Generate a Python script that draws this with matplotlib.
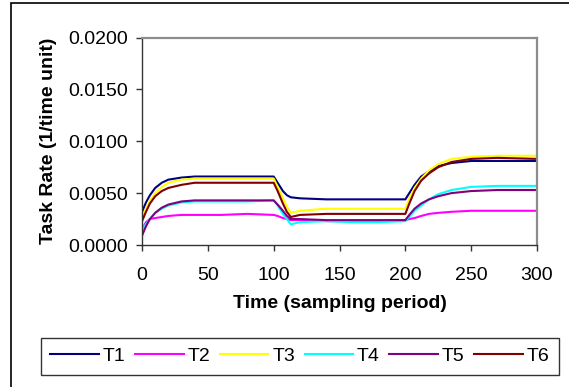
import matplotlib.pyplot as plt
from matplotlib.patches import Rectangle

plt.rcParams['font.family'] = ['Liberation Sans', 'DejaVu Sans']

# sampling period
t = [0, 3, 6, 10, 15, 20, 30, 40, 60, 80, 100, 103, 107, 110, 113, 120, 140, 160, 180, 200,
     203, 207, 212, 218, 225, 235, 250, 270, 300]

T1 = [0.0032, 0.0041, 0.0048, 0.0055, 0.0060, 0.0063, 0.0065, 0.0066, 0.0066, 0.0066, 0.0066,
      0.0060, 0.0052, 0.0048, 0.0046, 0.0045, 0.0044, 0.0044, 0.0044, 0.0044,
      0.0050, 0.0058, 0.0066, 0.0071, 0.0076, 0.0079, 0.0081, 0.0081, 0.0081]
T2 = [0.0015, 0.0022, 0.0025, 0.0026, 0.0027, 0.0028, 0.0029, 0.0029, 0.0029, 0.0030, 0.0029,
      0.0028, 0.0026, 0.0025, 0.0024, 0.0024, 0.0023, 0.0023, 0.0023, 0.0024,
      0.0025, 0.0026, 0.0028, 0.0030, 0.0031, 0.0032, 0.0033, 0.0033, 0.0033]
T3 = [0.0025, 0.0035, 0.0043, 0.0050, 0.0056, 0.0060, 0.0063, 0.0064, 0.0064, 0.0064, 0.0064,
      0.0056, 0.0045, 0.0037, 0.0031, 0.0033, 0.0035, 0.0035, 0.0035, 0.0035,
      0.0045, 0.0055, 0.0064, 0.0072, 0.0078, 0.0083, 0.0085, 0.0086, 0.0086]
T4 = [0.0015, 0.0020, 0.0025, 0.0031, 0.0035, 0.0038, 0.0041, 0.0042, 0.0042, 0.0042, 0.0043,
      0.0038, 0.0030, 0.0025, 0.0020, 0.0022, 0.0023, 0.0022, 0.0022, 0.0023,
      0.0027, 0.0033, 0.0038, 0.0044, 0.0049, 0.0053, 0.0056, 0.0057, 0.0057]
T5 = [0.0009, 0.0018, 0.0025, 0.0031, 0.0036, 0.0039, 0.0042, 0.0043, 0.0043, 0.0043, 0.0043,
      0.0039, 0.0033, 0.0028, 0.0025, 0.0025, 0.0024, 0.0024, 0.0024, 0.0024,
      0.0029, 0.0035, 0.0040, 0.0044, 0.0047, 0.0050, 0.0052, 0.0053, 0.0053]
T6 = [0.0023, 0.0032, 0.0040, 0.0047, 0.0052, 0.0055, 0.0058, 0.0060, 0.0060, 0.0060, 0.0060,
      0.0052, 0.0040, 0.0032, 0.0027, 0.0029, 0.0030, 0.0030, 0.0030, 0.0030,
      0.0040, 0.0052, 0.0062, 0.0069, 0.0075, 0.0080, 0.0083, 0.0084, 0.0083]

names = ['T1', 'T2', 'T3', 'T4', 'T5', 'T6']
colors = ['#000080', '#FF00FF', '#FFFF00', '#00FFFF', '#800080', '#800000']

fs = 14

fig = plt.figure(figsize=(5.69, 3.87), dpi=100)
ax = fig.add_axes([0.2496, 0.3669, 0.6942, 0.5362])

for y, name, c in zip([T1, T2, T3, T4, T5, T6], names, colors):
    ax.plot(t, y, color=c, lw=1.5, label=name)

ax.set_xlim(0, 300)
ax.set_ylim(0, 0.02)
ax.set_xticks([0, 50, 100, 150, 200, 250, 300])
ax.set_yticks([0, 0.005, 0.01, 0.015, 0.02])
ax.set_yticklabels(['0.0000', '0.0050', '0.0100', '0.0150', '0.0200'])
ax.tick_params(labelsize=fs, length=4, width=1, color='#333333', pad=6)
ax.tick_params(axis='x', pad=12)

for s in ['top', 'right']:
    ax.spines[s].set_color('#8c8c8c')
    ax.spines[s].set_linewidth(1.6)
for s in ['left', 'bottom']:
    ax.spines[s].set_color('#333333')
    ax.spines[s].set_linewidth(1.0)

ax.set_xlabel('Time (sampling period)', fontsize=fs, fontweight='bold', labelpad=8)
ax.set_ylabel('Task Rate (1/time unit)', fontsize=fs, fontweight='bold', labelpad=8)

leg = fig.legend(loc='lower left', bbox_to_anchor=(0.0715, 0.031, 0.911, 0.083),
                 mode='expand', ncol=6, fontsize=fs, handlelength=2.5,
                 handletextpad=0.2, columnspacing=0.6, borderaxespad=0,
                 borderpad=0.5, fancybox=False, frameon=True)
leg.get_frame().set_edgecolor('black')
leg.get_frame().set_linewidth(1.0)

# outer chart border (clipped at right and bottom)
fig.patches.append(Rectangle((0.0202, -0.1), 1.2, 1.091, transform=fig.transFigure,
                             fill=False, edgecolor='black', lw=1.2))

fig.savefig('out.png', dpi=100)
